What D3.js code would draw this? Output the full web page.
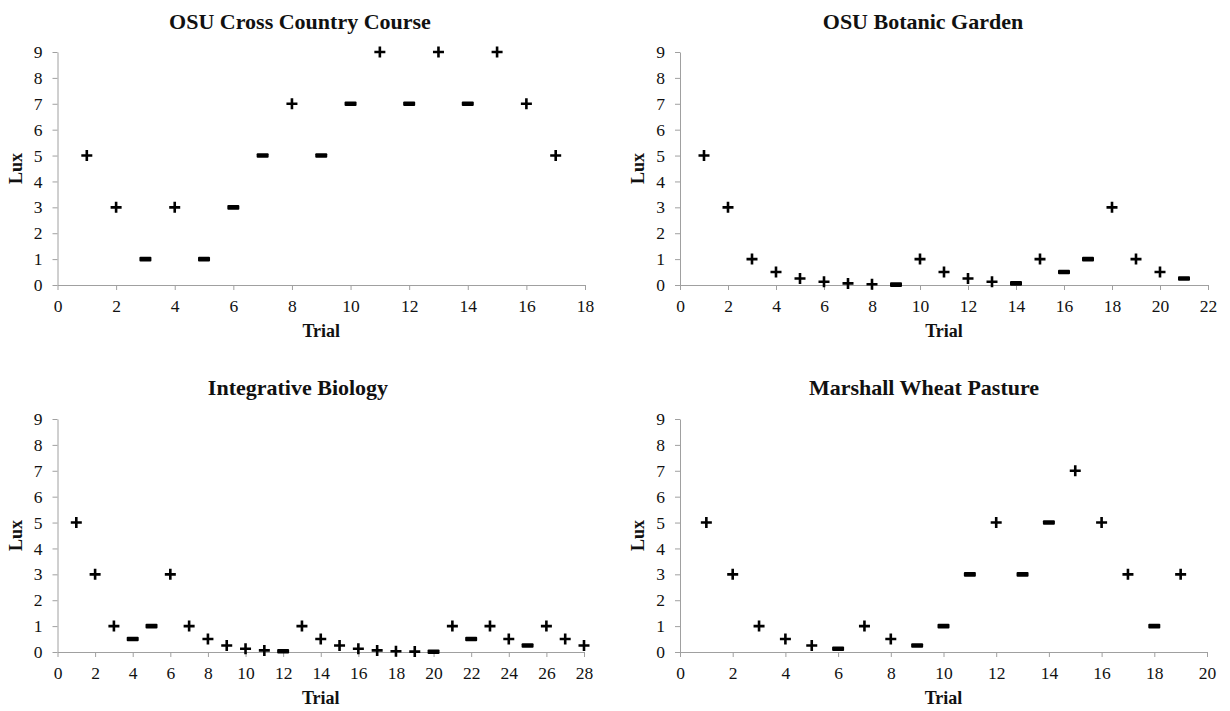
<!DOCTYPE html>
<html>
<head>
<meta charset="utf-8">
<script src="https://cdn.jsdelivr.net/npm/d3@7"></script>
<style>
  body { margin: 0; background: #fff; }
  text { font-family: "Liberation Serif", "Times New Roman", serif; fill: #111; }
</style>
</head>
<body>
<svg id="chart" width="1230" height="711"></svg>
<script>
// chart data
const titles = ['OSU Cross Country Course', 'OSU Botanic Garden', 'Integrative Biology', 'Marshall Wheat Pasture'];
const yTicks = [0, 1, 2, 3, 4, 5, 6, 7, 8, 9];
const xTicksCross = [0, 2, 4, 6, 8, 10, 12, 14, 16, 18];
const xTicksBotanic = [0, 2, 4, 6, 8, 10, 12, 14, 16, 18, 20, 22];
const xTicksBiology = [0, 2, 4, 6, 8, 10, 12, 14, 16, 18, 20, 22, 24, 26, 28];
const xTicksMarshall = [0, 2, 4, 6, 8, 10, 12, 14, 16, 18, 20];

// lux per trial (trial = index + 1) and response: + seen, - not seen
const crossLux = [5, 3, 1, 3, 1, 3, 5, 7, 5, 7, 9, 7, 9, 7, 9, 7, 5];
const crossSeen = '++-+---+--+-+-+++';
const botanicLux = [5, 3, 1, 0.5, 0.25, 0.125, 0.0625, 0.03125, 0.015625, 1, 0.5, 0.25, 0.125, 0.0625,
  1, 0.5, 1, 3, 1, 0.5, 0.25];
const botanicSeen = '++++++++-++++-+--+++-';
const biologyLux = [5, 3, 1, 0.5, 1, 3, 1, 0.5, 0.25, 0.125, 0.0625, 0.03125, 1, 0.5, 0.25, 0.125,
  0.0625, 0.03125, 0.015625, 0.0078, 1, 0.5, 1, 0.5, 0.25, 1, 0.5, 0.25];
const biologySeen = '+++--++++++-+++++++-+-++-+++';
const marshallLux = [5, 3, 1, 0.5, 0.25, 0.125, 1, 0.5, 0.25, 1, 3, 5, 3, 5, 7, 5, 3, 1, 3];
const marshallSeen = '+++++-++---+--+++-+';

// layout of the four panels
const panels = [
  { lux: crossLux, seen: crossSeen, xTicks: xTicksCross, left: 57.5, right: 585, top: 52, bottom: 285, titleX: 300, titleY: 29 },
  { lux: botanicLux, seen: botanicSeen, xTicks: xTicksBotanic, left: 680, right: 1208, top: 52, bottom: 285, titleX: 923, titleY: 29 },
  { lux: biologyLux, seen: biologySeen, xTicks: xTicksBiology, left: 57.5, right: 584, top: 419, bottom: 652, titleX: 298, titleY: 395 },
  { lux: marshallLux, seen: marshallSeen, xTicks: xTicksMarshall, left: 680, right: 1207, top: 419, bottom: 652, titleX: 924, titleY: 395 }
];

const svg = d3.select('#chart');
const axisColor = '#a0a0a0';

panels.forEach((p, k) => {
  const x = d3.scaleLinear().domain([0, d3.max(p.xTicks)]).range([p.left, p.right]);
  const y = d3.scaleLinear().domain([0, d3.max(yTicks)]).range([p.bottom, p.top]);
  const g = svg.append('g');

  const xAxis = g.append('g')
    .attr('transform', `translate(0,${p.bottom})`)
    .call(d3.axisBottom(x).tickValues(p.xTicks).tickSize(5).tickSizeOuter(0).tickPadding(10));
  const yAxis = g.append('g')
    .attr('transform', `translate(${p.left},0)`)
    .call(d3.axisLeft(y).tickValues(yTicks).tickSize(5).tickSizeOuter(0).tickPadding(10));

  [xAxis, yAxis].forEach(a => {
    a.select('.domain').attr('stroke', axisColor);
    a.selectAll('.tick line').attr('stroke', axisColor);
    a.selectAll('.tick text').attr('font-size', 17.5).attr('fill', '#111')
      .style('font-family', '"Liberation Serif", serif');
  });

  g.append('text')
    .attr('x', p.titleX).attr('y', p.titleY)
    .attr('text-anchor', 'middle')
    .attr('font-size', 22).attr('font-weight', 'bold')
    .text(titles[k]);

  g.append('text')
    .attr('x', (p.left + p.right) / 2).attr('y', p.bottom + 52)
    .attr('text-anchor', 'middle')
    .attr('font-size', 18).attr('font-weight', 'bold')
    .text('Trial');

  g.append('text')
    .attr('transform', `translate(${p.left - 36},${(p.top + p.bottom) / 2}) rotate(-90)`)
    .attr('text-anchor', 'middle')
    .attr('font-size', 18).attr('font-weight', 'bold')
    .text('Lux');

  const pts = p.lux.map((v, i) => ({ trial: i + 1, lux: v, seen: p.seen[i] === '+' }));

  // seen trials: plus marks
  g.selectAll('path.plus').data(pts.filter(d => d.seen)).join('path')
    .attr('class', 'plus')
    .attr('transform', d => `translate(${x(d.trial)},${y(d.lux)})`)
    .attr('d', 'M-5.5,0H5.5M0,-5.5V5.5')
    .attr('stroke', '#000').attr('stroke-width', 2.6).attr('fill', 'none');

  // not seen trials: dash marks
  g.selectAll('rect.minus').data(pts.filter(d => !d.seen)).join('rect')
    .attr('class', 'minus')
    .attr('x', d => x(d.trial) - 6).attr('y', d => y(d.lux) - 2.3)
    .attr('width', 12).attr('height', 4.6).attr('rx', 1)
    .attr('fill', '#000');
});
</script>
</body>
</html>
